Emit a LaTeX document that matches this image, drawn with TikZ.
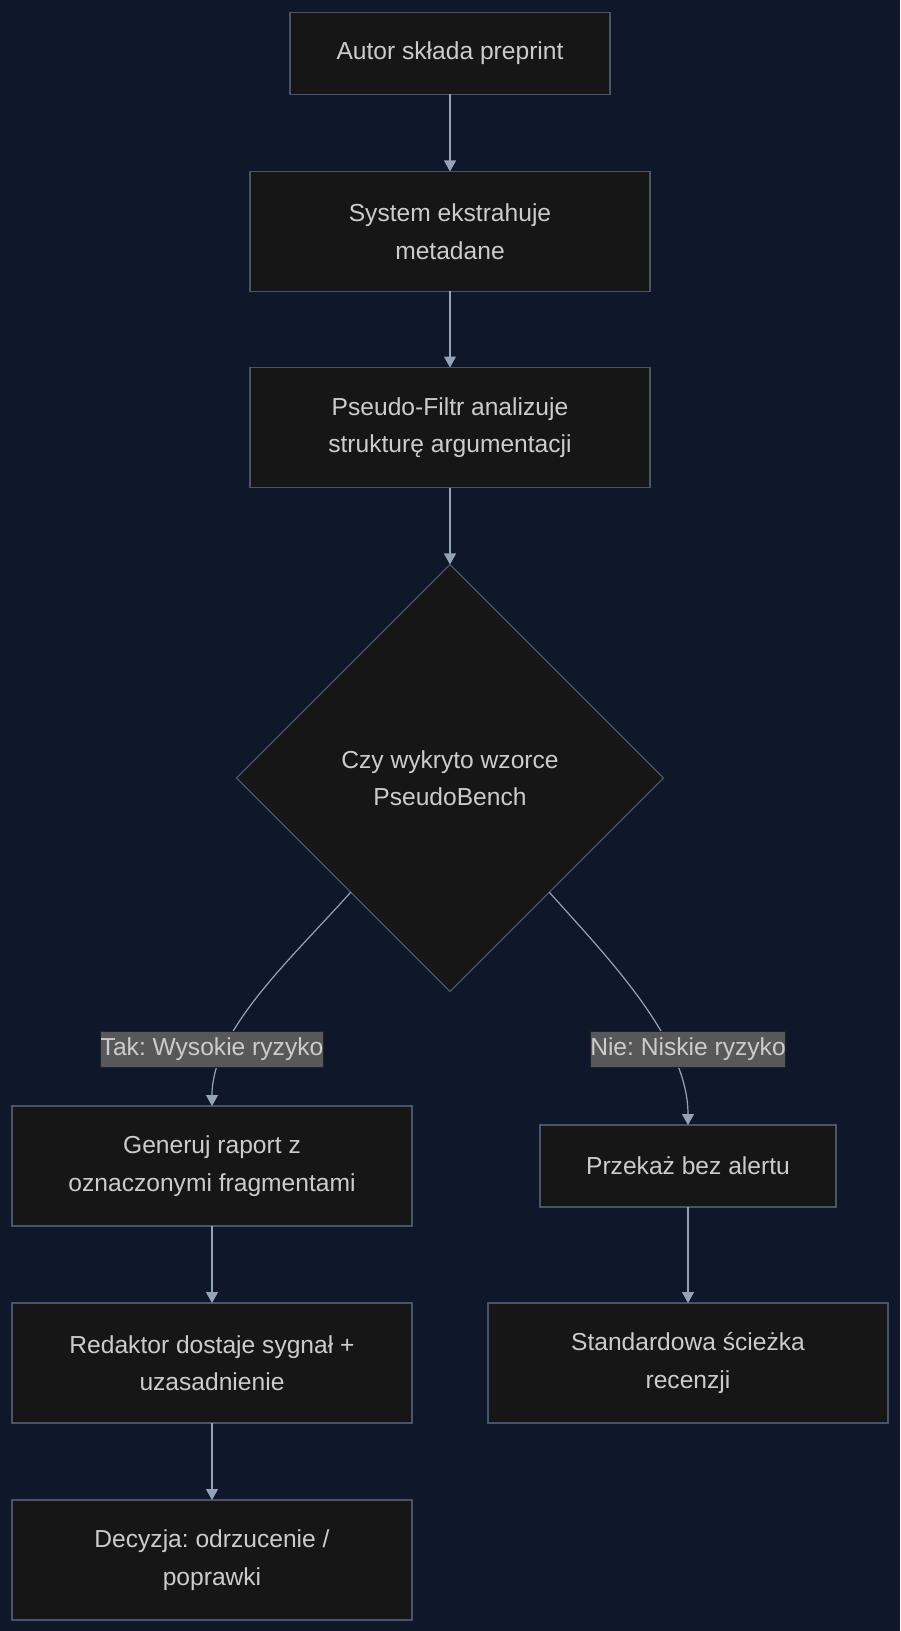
\documentclass[tikz,border=0pt]{standalone}
\usepackage{fontspec}
\setmainfont{Liberation Sans}
\usepackage{tikz}
\usetikzlibrary{shapes.geometric, arrows.meta, positioning}

\definecolor{bgnavy}{HTML}{0F172A}
\definecolor{boxfill}{HTML}{161616}
\definecolor{boxline}{HTML}{475569}
\definecolor{txtgray}{HTML}{CCCCCC}
\definecolor{arrgray}{HTML}{94A3B8}
\definecolor{lblfill}{HTML}{585858}

\frenchspacing

\begin{document}
\begin{tikzpicture}[
  x=0.5pt, y=-0.5pt,
  every node/.style={font=\fontsize{12.3pt}{18.75pt}\selectfont, text=txtgray},
  stepbox/.style={rectangle, draw=boxline, fill=boxfill, line width=0.6pt,
    minimum width=200pt, minimum height=60pt, align=center, inner sep=0pt, outer sep=0pt},
  shortbox/.style={stepbox, minimum width=#1, minimum height=41pt},
  decision/.style={diamond, draw=boxline, fill=boxfill, line width=0.6pt,
    minimum width=213.5pt, minimum height=213.5pt, align=center, inner sep=0pt, outer sep=0pt},
  lbl/.style={rectangle, fill=lblfill, draw=black!60!boxline, line width=0.3pt,
    inner xsep=0pt, inner ysep=0pt, minimum height=18pt},
  arr/.style={-{Triangle[length=5.5pt, width=6pt]}, line width=0.6pt, arrgray}
]

\fill[bgnavy] (0,0) rectangle (900,1631);

% ===== MAIN CHAIN =====
\node[shortbox=160pt] (autor) at (450,53.5) {Autor składa preprint};
\node[stepbox, below=38.5pt of autor] (ekstr) {System ekstrahuje\\metadane};
\node[stepbox, below=38pt of ekstr] (filtr) {Pseudo-Filtr analizuje\\strukturę argumentacji};
\node[decision, below=38.5pt of filtr] (wzorce) {Czy wykryto wzorce\\PseudoBench};
\draw[arr] (autor) -- (ekstr);
\draw[arr] (ekstr) -- (filtr);
\draw[arr] (filtr) -- (wzorce);

% ===== HIGH RISK BRANCH =====
\node[stepbox] (raport) at (212,1166) {Generuj raport z\\oznaczonymi fragmentami};
\node[stepbox, below=38.5pt of raport] (redaktor) {Redaktor dostaje sygnał +\\uzasadnienie};
\node[stepbox, below=38.5pt of redaktor] (decyzja) {Decyzja: odrzucenie /\\poprawki};
\draw[arr] (raport) -- (redaktor);
\draw[arr] (redaktor) -- (decyzja);

% ===== LOW RISK BRANCH =====
\node[shortbox=148pt] (przekaz) at (688,1166) {Przekaż bez alertu};
\node[stepbox, below=48pt of przekaz] (standard) {Standardowa ścieżka\\recenzji};
\draw[arr] (przekaz) -- (standard);

% ===== DECISION EDGES =====
\draw[arr] (wzorce.229) .. controls (292,958) and (212,1030) .. (raport.north);
\draw[arr] (wzorce.311) .. controls (608,958) and (688,1040) .. (przekaz.north);
\node[lbl] (tak) at (212,1049) {Tak: Wysokie ryzyko};
\node[lbl] (nie) at (688,1049) {Nie: Niskie ryzyko};
\end{tikzpicture}
\end{document}
